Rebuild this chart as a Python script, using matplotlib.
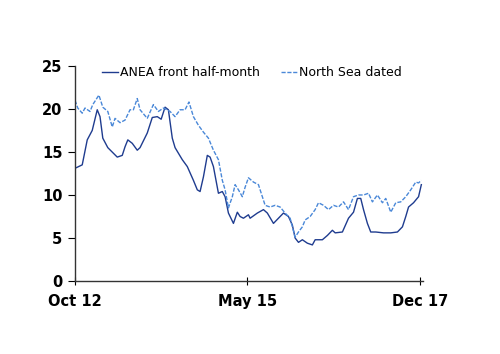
import matplotlib
matplotlib.use('Agg')
from matplotlib import pyplot as plt

# months since Oct 2012
anea_months = [0, 1.3, 2.2, 3.1, 4.0, 4.5, 5.0, 5.9, 7.6, 8.5, 9.0, 9.5, 10.3, 11.2, 11.7,
               13.0, 13.9, 14.8, 15.5, 16.2, 16.8, 17.5, 18.0, 19.3, 20.2, 21.3, 22.0, 22.5,
               23.1, 23.8, 24.3, 24.9, 25.8, 26.5, 27.0, 27.6, 28.5, 29.2, 29.7, 30.3, 31.2,
               31.5, 32.8, 33.9, 34.6, 35.7, 36.6, 37.5, 38.4, 39.1, 39.6, 40.2, 40.9, 41.8,
               42.7, 43.2, 44.5, 45.4, 46.3, 46.8, 48.1, 49.2, 50.1, 50.8, 51.4, 51.9, 52.6,
               53.2, 54.1, 55.5, 56.8, 58.0, 58.9, 59.5, 60.0, 60.9, 61.8, 62.3]
anea = [13.1, 13.5, 16.4, 17.5, 19.9, 19.1, 16.6, 15.5, 14.4, 14.6, 15.6, 16.4, 16.0, 15.2, 15.5,
        17.2, 19.0, 19.1, 18.8, 20.2, 19.9, 16.6, 15.5, 14.1, 13.3, 11.7, 10.6, 10.4,
        12.1, 14.6, 14.4, 13.3, 10.2, 10.4, 9.8, 7.9, 6.7, 8.0, 7.5, 7.3, 7.7,
        7.3, 7.9, 8.3, 7.9, 6.7, 7.3, 7.9, 7.5, 6.5, 5.0, 4.5, 4.8, 4.4,
        4.2, 4.8, 4.8, 5.3, 5.9, 5.6, 5.7, 7.3, 8.0, 9.6, 9.6, 8.3, 6.7,
        5.7, 5.7, 5.6, 5.6, 5.7, 6.3, 7.5, 8.6, 9.1, 9.8, 11.2]

ns_months = [0, 0.5, 1.3, 1.8, 2.7, 3.2, 4.3, 5.0, 5.9, 6.7, 7.2, 8.1, 9.0, 9.9, 10.5, 11.2,
             11.7, 13.0, 14.1, 15.0, 15.9, 17.1, 18.0, 18.9, 19.8, 20.5, 21.3, 22.2, 23.1,
             24.0, 24.9, 25.8, 26.5, 27.0, 27.6, 28.3, 28.8, 29.4, 30.1, 30.6, 31.2, 32.1,
             33.0, 33.7, 34.2, 35.1, 36.0, 36.9, 37.8, 38.7, 39.6, 40.2, 40.9, 41.4, 42.3,
             43.2, 43.8, 44.7, 45.6, 46.5, 47.4, 48.3, 49.2, 50.1, 51.0, 51.9, 52.8, 53.5,
             54.4, 55.3, 55.9, 56.8, 57.7, 58.6, 59.5, 60.4, 61.3, 61.8, 62.3]
north_sea = [21.0, 20.1, 19.5, 20.1, 19.7, 20.5, 21.6, 20.2, 19.7, 17.9, 18.9, 18.4, 18.7, 19.9, 19.9, 21.2,
             19.9, 18.9, 20.5, 19.7, 20.1, 19.7, 19.1, 19.9, 19.9, 20.8, 19.1, 18.1, 17.3,
             16.6, 15.2, 14.1, 11.7, 10.6, 8.5, 9.8, 11.2, 10.6, 9.8, 10.9, 12.0, 11.5,
             11.2, 9.8, 8.8, 8.6, 8.8, 8.6, 7.9, 7.3, 5.1, 5.7, 6.3, 7.1, 7.5,
             8.3, 9.1, 8.8, 8.3, 8.8, 8.6, 9.2, 8.3, 9.8, 10.0, 10.0, 10.2, 9.2,
             10.0, 9.1, 9.6, 8.0, 9.1, 9.2, 9.8, 10.6, 11.5, 11.4, 11.7]

tick_pos = [0, 31, 62]
tick_labels = ['Oct 12', 'May 15', 'Dec 17']

fig = plt.figure(figsize=(5, 3.54), dpi=100)
ax = fig.add_axes([0.15, 0.206, 0.696, 0.608])

ax.plot(anea_months, anea, color='#1f3c8f', lw=1.0, label='ANEA front half-month')
ax.plot(ns_months, north_sea, color='#4a88d8', lw=1.0, ls=(0, (3, 1.2)), label='North Sea dated')

ax.set_xlim(0, 62.6)
ax.set_ylim(0, 25)
ax.set_yticks([0, 5, 10, 15, 20, 25])
ax.set_xticks(tick_pos)
ax.set_xticklabels(tick_labels)
for s in ['top', 'right']:
    ax.spines[s].set_visible(False)
for s in ['left', 'bottom']:
    ax.spines[s].set_color('#333333')
    ax.spines[s].set_linewidth(1.0)
ax.tick_params(axis='y', direction='out', length=5, labelsize=10.5, pad=4)
ax.tick_params(axis='x', direction='inout', length=6, labelsize=10.5, pad=6)
for lbl in ax.get_xticklabels() + ax.get_yticklabels():
    lbl.set_fontweight('bold')

ax.legend(loc='center left', bbox_to_anchor=(0.078, 0.967), ncol=2, frameon=False,
          fontsize=9, handlelength=1.3, handletextpad=0.15, columnspacing=1.65,
          borderpad=0, borderaxespad=0)

fig.savefig('out.png', dpi=100)
